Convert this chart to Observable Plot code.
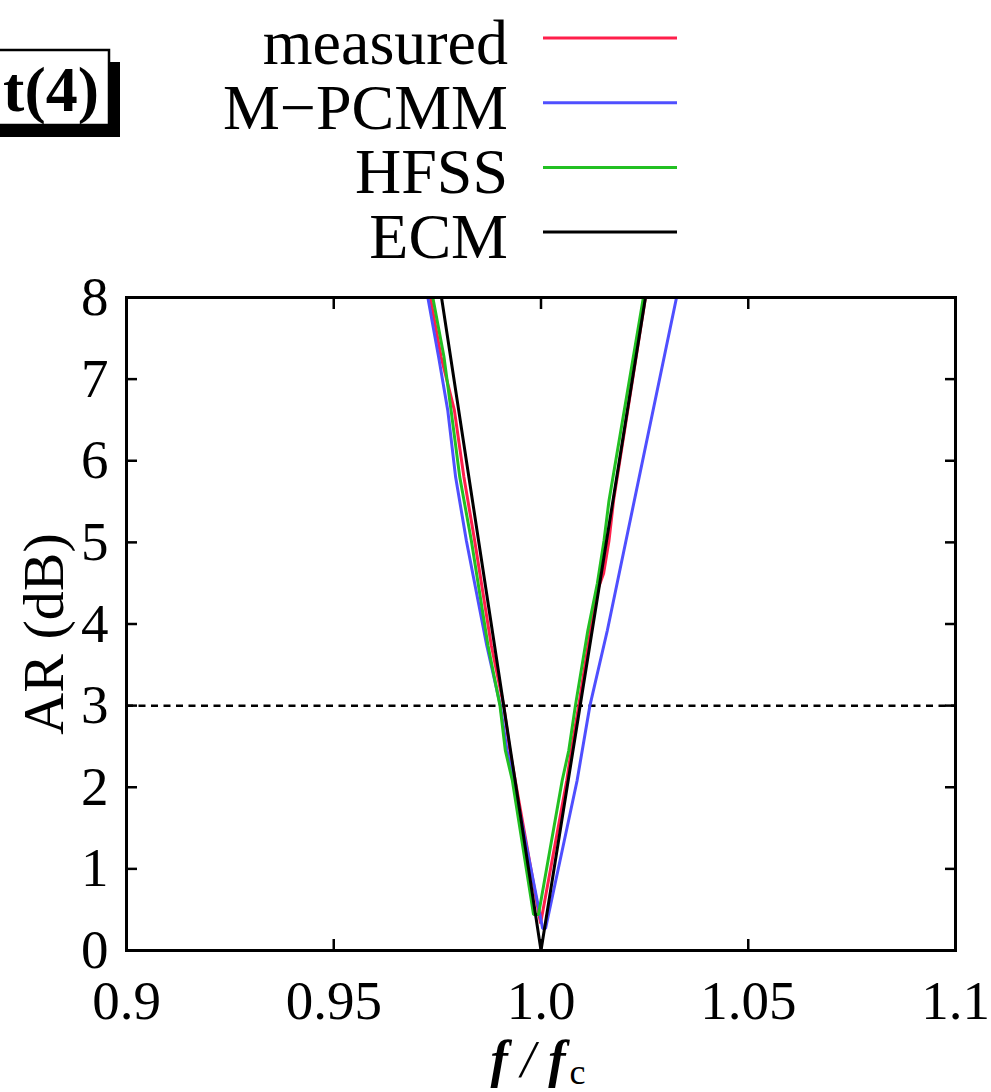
<!DOCTYPE html>
<html><head><meta charset="utf-8">
<script src="https://cdn.jsdelivr.net/npm/d3@7"></script>
<script src="https://cdn.jsdelivr.net/npm/@observablehq/plot@0.6"></script>
<style>html,body{margin:0;padding:0;background:#fff;}</style>
</head><body><div id="chart"></div>
<script>
// ---- data ----
const seriesNames = ["measured", "M\u2212PCMM", "HFSS", "ECM"];
const seriesColors = ["#ff1f4b", "#4f4fff", "#22c022", "#000000"];

const measuredF  = [0.9733, 0.9759, 0.9791, 0.9814, 0.9840, 0.9880, 0.9910, 0.9925, 0.9938, 0.9999, 1.0062, 1.0073, 1.0091, 1.0119, 1.0139, 1.0151, 1.0164, 1.0175, 1.0252];
const measuredAR = [8, 7.27, 6.62, 5.80, 5.02, 3.74, 3.0, 2.45, 2.08, 0.33, 2.08, 2.45, 3.0, 3.92, 4.45, 4.62, 5.02, 5.51, 8];

const mpcmmF  = [0.9727, 0.9753, 0.9775, 0.9794, 0.9820, 0.9869, 0.9902, 0.9918, 0.9934, 1.0004, 1.0011, 1.0087, 1.0118, 1.0160, 1.0205, 1.0327];
const mpcmmAR = [8, 7.27, 6.62, 5.80, 5.02, 3.74, 3.0, 2.45, 2.08, 0.27, 0.27, 2.08, 3.0, 3.92, 5.02, 8];

const hfssF  = [0.9739, 0.9766, 0.9783, 0.9804, 0.9832, 0.9872, 0.9901, 0.9914, 0.9931, 0.9982, 0.9994, 1.0051, 1.0067, 1.0083, 1.0113, 1.0136, 1.0152, 1.0164, 1.0247];
const hfssAR = [8, 7.27, 6.62, 5.80, 5.02, 3.74, 3.0, 2.45, 2.08, 0.44, 0.44, 2.08, 2.45, 3.0, 3.92, 4.5, 5.02, 5.51, 8];

const ecmF  = [0.9760, 1.0000, 1.0252];
const ecmAR = [8, 0, 8];

const thresholdAR = [3];

const xTickValues = [0.9, 0.95, 1.0, 1.05, 1.1];
const xTickText = ["0.9", "0.95", "1.0", "1.05", "1.1"];
const xInnerTicks = [0.95, 1.0, 1.05];
const yTickValues = [0, 1, 2, 3, 4, 5, 6, 7, 8];
const yTickText = ["0", "1", "2", "3", "4", "5", "6", "7", "8"];
const yInnerTicks = [1, 2, 3, 4, 5, 6, 7];
const boxLabel = "t(4)";

// ---- table ----
const seriesF = [measuredF, mpcmmF, hfssF, ecmF];
const seriesAR = [measuredAR, mpcmmAR, hfssAR, ecmAR];
const rows = seriesNames.flatMap((s, k) => seriesF[k].map((f, i) => ({series: s, f, ar: seriesAR[k][i]})));

const W = 991, H = 1092;
const mTop = 297, mRight = 36, mBottom = 142, mLeft = 126;
const tickFont = 55;

const plot = Plot.plot({
  width: W, height: H,
  marginTop: mTop, marginRight: mRight, marginBottom: mBottom, marginLeft: mLeft,
  style: {fontFamily: "'Liberation Serif', 'Times New Roman', serif", background: "white", color: "black", overflow: "visible"},
  x: {domain: [0.9, 1.1]},
  y: {domain: [0, 8]},
  color: {domain: seriesNames, range: seriesColors},
  marks: [
    Plot.ruleY(thresholdAR, {stroke: "black", strokeWidth: 2.5, strokeDasharray: "7,5.5"}),
    Plot.line(rows, {x: "f", y: "ar", z: "series", stroke: "series", strokeWidth: 3, strokeLinejoin: "miter"}),
    Plot.axisX(xTickValues, {anchor: "bottom", tickSize: 0, tickPadding: 29, fontSize: tickFont,
      tickFormat: d => xTickText[xTickValues.indexOf(d)], label: null}),
    Plot.axisX(xInnerTicks, {anchor: "bottom", tickSize: -11, strokeWidth: 2.5, tickFormat: () => "", label: null}),
    Plot.axisX(xInnerTicks, {anchor: "top", tickSize: -11, strokeWidth: 2.5, tickFormat: () => "", label: null}),
    Plot.axisY(yTickValues, {anchor: "left", tickSize: 0, tickPadding: 18, fontSize: tickFont,
      tickFormat: d => yTickText[yTickValues.indexOf(d)], label: null}),
    Plot.axisY(yInnerTicks, {anchor: "left", tickSize: -11, strokeWidth: 2.5, tickFormat: () => "", label: null}),
    Plot.axisY(yInnerTicks, {anchor: "right", tickSize: -11, strokeWidth: 2.5, tickFormat: () => "", label: null}),
    Plot.frame({stroke: "black", strokeWidth: 3})
  ]
});
document.getElementById("chart").appendChild(plot);

const svg = d3.select(plot);
const serif = "'Liberation Serif', 'Times New Roman', serif";

// legend (top, right-aligned labels with line samples)
const leg = svg.append("g").attr("font-family", serif).attr("font-size", 64);
seriesNames.forEach((s, i) => {
  const yc = 38 + i * 64.7;
  leg.append("text").attr("x", 508).attr("y", yc + 26).attr("text-anchor", "end").attr("fill", "black").text(s);
  leg.append("line").attr("x1", 543).attr("x2", 677).attr("y1", yc).attr("y2", yc)
    .attr("stroke", seriesColors[i]).attr("stroke-width", 3);
});

// boxed label with shadow
const box = svg.append("g").attr("font-family", serif);
box.append("rect").attr("x", -10).attr("y", 62).attr("width", 130).attr("height", 75).attr("fill", "black");
box.append("rect").attr("x", -10).attr("y", 50).attr("width", 119).attr("height", 75)
  .attr("fill", "white").attr("stroke", "black").attr("stroke-width", 2.5);
box.append("text").attr("x", 99).attr("y", 111).attr("text-anchor", "end")
  .attr("font-weight", "bold").attr("font-size", 64).attr("fill", "black").text(boxLabel);

// y axis label
svg.append("text").attr("font-family", serif).attr("font-size", 58)
  .attr("text-anchor", "middle").attr("transform", `translate(63,634) rotate(-90)`)
  .attr("fill", "black").text("AR (dB)");

// x axis label f/f_c
const xl = svg.append("text").attr("font-family", serif).attr("font-size", 52)
  .attr("text-anchor", "middle").attr("x", 538).attr("y", 1077).attr("fill", "black");
xl.append("tspan").attr("font-weight", "bold").attr("font-style", "italic").text("f");
xl.append("tspan").attr("font-style", "italic").text(" / ");
xl.append("tspan").attr("font-weight", "bold").attr("font-style", "italic").text("f");
xl.append("tspan").attr("font-size", 36).attr("dy", 7).attr("dx", 4).text("c");
</script>
</body></html>
